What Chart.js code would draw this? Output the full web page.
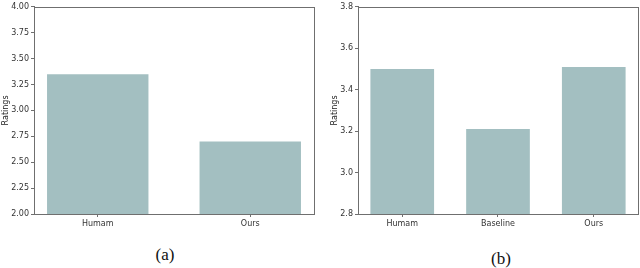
<!DOCTYPE html>
<html>
<head>
<meta charset="utf-8">
<script src="https://cdn.jsdelivr.net/npm/chart.js@4/dist/chart.umd.min.js"></script>
<style>
  body { margin: 0; background: #fff; width: 640px; height: 268px; position: relative; overflow: hidden; }
  .panel { position: absolute; top: 0; width: 320px; height: 232px; }
  .caption { position: absolute; font-family: "Liberation Serif", "DejaVu Serif", serif; font-size: 17px; color: #111; transform: translate(-50%, -50%); }
</style>
</head>
<body>
<div class="panel" style="left:0"><canvas id="chartA"></canvas></div>
<div class="panel" style="left:320px"><canvas id="chartB"></canvas></div>
<div class="caption" style="left:165px; top:255px">(a)</div>
<div class="caption" style="left:501px; top:259px">(b)</div>
<script>
// panel (a)
const labelsA = ['Humam', 'Ours'];
const ratingsA = [3.35, 2.70];
const yTicksA = { min: 2.0, max: 4.0, step: 0.25, digits: 2 };

// panel (b)
const labelsB = ['Humam', 'Baseline', 'Ours'];
const ratingsB = [3.50, 3.21, 3.51];
const yTicksB = { min: 2.8, max: 3.8, step: 0.2, digits: 1 };

const barColor = '#a3bfc1';
const spineColor = '#6f6f6f';
const tickFont = { family: 'DejaVu Sans', size: 8 };

// matplotlib-like box around the axes
const framePlugin = {
  id: 'frame',
  afterDraw(chart) {
    const { ctx, chartArea: a } = chart;
    ctx.save();
    ctx.strokeStyle = spineColor;
    ctx.lineWidth = 1;
    ctx.strokeRect(Math.round(a.left) + 0.5, Math.round(a.top) + 0.5,
      Math.round(a.right - a.left), Math.round(a.bottom - a.top));
    ctx.restore();
  }
};

function makeChart(id, labels, ratings, yt, opts) {
  const ctx = document.getElementById(id);
  return new Chart(ctx, {
    type: 'bar',
    data: {
      datasets: [{
        data: ratings.map((v, i) => ({ x: i, y: v })),
        backgroundColor: barColor,
        borderWidth: 0,
        barPercentage: 0.665,
        categoryPercentage: 1
      }]
    },
    options: {
      responsive: true,
      maintainAspectRatio: false,
      animation: false,
      layout: { padding: { top: opts.top, right: opts.right, left: opts.left, bottom: 0 } },
      plugins: { legend: { display: false }, tooltip: { enabled: false } },
      scales: {
        x: {
          type: 'linear',
          offset: false,
          min: opts.xMin,
          max: labels.length - 1 - opts.xMin,
          afterBuildTicks: (scale) => {
            scale.ticks = labels.map((l, i) => ({ value: i }));
          },
          afterFit: (scale) => { scale.height = 18; },
          ticks: {
            callback: (v) => labels[v],
            font: tickFont,
            color: '#333',
            padding: 2,
            maxRotation: 0,
            autoSkip: false
          },
          grid: { offset: false, drawOnChartArea: false, tickLength: 3, color: spineColor },
          border: { color: spineColor, width: 1 }
        },
        y: {
          min: yt.min,
          max: yt.max,
          afterFit: (scale) => { scale.width = opts.yWidth; },
          ticks: {
            stepSize: yt.step,
            callback: (v) => Number(v).toFixed(yt.digits),
            font: tickFont,
            color: '#333',
            padding: 2
          },
          grid: { drawOnChartArea: false, tickLength: 3, color: spineColor },
          border: { color: spineColor, width: 1 },
          title: {
            display: true,
            text: 'Ratings',
            font: { family: 'DejaVu Sans', size: 8 },
            color: '#222',
            padding: 0
          }
        }
      }
    },
    plugins: [framePlugin]
  });
}

makeChart('chartA', labelsA, ratingsA, yTicksA, { xMin: -0.418, yWidth: 33, left: 1, right: 6, top: 0 });
makeChart('chartB', labelsB, ratingsB, yTicksB, { xMin: -0.462, yWidth: 28, left: 10, right: 2, top: 0 });
</script>
</body>
</html>
